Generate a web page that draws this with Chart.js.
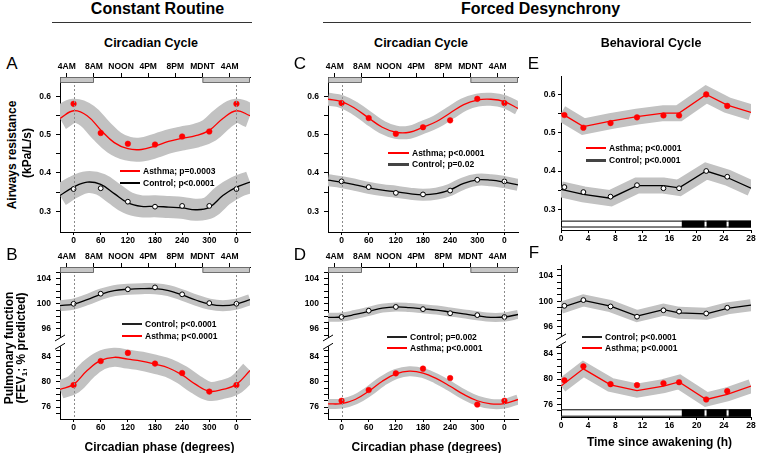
<!DOCTYPE html>
<html>
<head>
<meta charset="utf-8">
<script src="https://cdn.jsdelivr.net/npm/chart.js@4.4.1/dist/chart.umd.min.js"></script>
<style>
  body { margin: 0; background: #fff; }
  #fig { position: relative; width: 757px; height: 453px; overflow: hidden; background: #fff;
         font-family: "Liberation Sans", Arial, sans-serif; color: #000; }
  #fig canvas { position: absolute; }
  .t { position: absolute; white-space: nowrap; font-weight: bold; line-height: 1; }
  .rule { position: absolute; height: 1px; background: #333; }
  .leg { position: absolute; }
</style>
</head>
<body>
<div id="fig"></div>
<script>
// ---- axes / categories ----
const phaseFitX = [-30, 0, 30, 60, 90, 120, 150, 180, 210, 240, 270, 300, 330, 360, 390];
const phaseObsX = [0, 60, 120, 180, 240, 300, 360];
const phaseTicks = [0, 60, 120, 180, 240, 300, 360];
const phaseLabels = ['0', '60', '120', '180', '240', '300', '0'];
const clockTicks = [4, 8, 12, 16, 20, 24, 28];
const clockLabels = ['4AM', '8AM', 'NOON', '4PM', '8PM', 'MDNT', '4AM'];
const sleepBlocks = [[3, 8], [24, 31]];

const behavTicks = [0, 4, 8, 12, 16, 20, 24, 28];
const behavObsX = [0.5, 3.3, 7.3, 11.2, 15.1, 17.4, 21.4, 24.5];
const behavFitX = [0, 3.3, 7.3, 11.2, 15.1, 17.4, 21.4, 24.5, 28];
const darkBlocks = [[17.8, 21.15], [21.45, 24.4], [24.7, 28]];

const resTicks = [0.3, 0.35, 0.4, 0.45, 0.5, 0.55, 0.6];
const resLabels = ['0.3', '', '0.4', '', '0.5', '', '0.6'];
const fevTicks = [75, 76, 77, 78, 79, 80, 81, 82, 83, 84, 85, 95, 96, 97, 98, 99, 100, 101, 102, 103, 104, 105];
const fevLabels = ['', '76', '', '', '', '80', '', '', '', '84', '', '', '96', '', '', '', '100', '', '', '', '104', ''];

// ---- A: airways resistance, constant routine ----
const aAsthmaObs = [0.580, 0.504, 0.476, 0.474, 0.495, 0.508, 0.580];
const aAsthmaFit = [0.542, 0.562, 0.549, 0.512, 0.479, 0.463, 0.461, 0.470, 0.482, 0.490, 0.497, 0.511, 0.542, 0.562, 0.549];
const aControlObs = [0.358, 0.360, 0.325, 0.312, 0.314, 0.314, 0.358];
const aControlFit = [0.341, 0.363, 0.376, 0.370, 0.346, 0.322, 0.313, 0.313, 0.311, 0.309, 0.304, 0.310, 0.341, 0.363, 0.376];

// ---- B: FEV1, constant routine ----
const bControlObs = [100.0, 101.6, 102.3, 102.6, 101.5, 100.1, 100.0];
const bControlFit = [99.7, 99.95, 100.65, 101.5, 102.1, 102.3, 102.4, 102.4, 102.1, 101.4, 100.6, 99.95, 99.7, 99.95, 100.65];
const bAsthmaObs = [79.5, 83.3, 84.6, 82.9, 81.4, 78.45, 79.5];
const bAsthmaFit = [78.8, 79.6, 81.8, 83.4, 83.9, 83.6, 83.3, 82.8, 82.2, 81.1, 79.6, 78.5, 78.8, 79.6, 81.8];

// ---- C: airways resistance, forced desynchrony ----
const cAsthmaObs = [0.582, 0.543, 0.502, 0.519, 0.537, 0.593, 0.582];
const cAsthmaFit = [0.592, 0.586, 0.568, 0.543, 0.519, 0.506, 0.506, 0.519, 0.534, 0.556, 0.578, 0.590, 0.592, 0.586, 0.568];
const cControlObs = [0.378, 0.363, 0.348, 0.344, 0.354, 0.382, 0.378];
const cControlFit = [0.381, 0.376, 0.369, 0.361, 0.355, 0.351, 0.346, 0.343, 0.346, 0.356, 0.373, 0.382, 0.381, 0.376, 0.369];

// ---- D: FEV1, forced desynchrony ----
const dControlObs = [97.9, 98.9, 99.5, 99.15, 98.5, 98.2, 97.9];
const dControlFit = [97.85, 97.9, 98.3, 98.8, 99.3, 99.5, 99.4, 99.2, 99.0, 98.7, 98.4, 98.1, 97.85, 97.9, 98.3];
const dAsthmaObs = [77.0, 78.7, 81.35, 82.1, 80.6, 76.4, 77.0];
const dAsthmaFit = [76.5, 76.55, 77.2, 78.5, 80.1, 81.25, 81.7, 81.4, 80.5, 79.3, 78.0, 77.0, 76.5, 76.55, 77.2];

// ---- E: airways resistance, behavioral cycle ----
const eAsthmaObs = [0.546, 0.513, 0.525, 0.540, 0.545, 0.545, 0.600, 0.570];
const eAsthmaFit = [0.551, 0.516, 0.530, 0.542, 0.551, 0.551, 0.600, 0.572, 0.553];
const eControlObs = [0.358, 0.345, 0.333, 0.363, 0.355, 0.355, 0.400, 0.385];
const eControlFit = [0.352, 0.339, 0.329, 0.362, 0.362, 0.356, 0.400, 0.383, 0.355];

// ---- F: FEV1, behavioral cycle ----
const fControlObs = [99.3, 100.2, 99.2, 97.6, 98.6, 98.4, 98.1, 99.0];
const fControlFit = [99.0, 100.15, 99.25, 97.7, 98.7, 98.2, 98.05, 98.9, 99.4];
const fAsthmaObs = [79.8, 82.0, 79.2, 79.05, 79.35, 79.5, 76.8, 78.1];
const fAsthmaFit = [78.9, 81.6, 79.1, 78.2, 78.9, 79.55, 76.8, 77.6, 78.9];

const RED = '#ff0000';
const BAND = '#c2c2c2';
const FONT = '"Liberation Sans", Arial, sans-serif';
const tickFont = { family: FONT, size: 8.5, weight: 'bold' };

Chart.defaults.font.family = FONT;
Chart.defaults.animation = false;

const fig = document.getElementById('fig');

// dashed phase markers, sleep bars, axis break, light/dark bar
const deco = {
  id: 'deco',
  afterDatasetsDraw(chart, args, o) {
    const { ctx, chartArea: ca, scales } = chart;
    if (o.dashed) {
      ctx.save();
      ctx.strokeStyle = '#8a8a8a';
      ctx.lineWidth = 1;
      ctx.setLineDash([2, 2]);
      o.dashed.forEach(v => {
        const x = Math.round(scales.x.getPixelForValue(v)) + 0.5;
        ctx.beginPath(); ctx.moveTo(x, ca.top); ctx.lineTo(x, ca.bottom); ctx.stroke();
      });
      ctx.restore();
    }
  },
  afterDraw(chart, args, o) {
    const { ctx, chartArea: ca, scales } = chart;
    ctx.save();
    if (o.sleep) {
      o.sleep.forEach(([a, b]) => {
        const xa = scales.x2.getPixelForValue(a), xb = scales.x2.getPixelForValue(b);
        ctx.fillStyle = '#c6c6c6';
        ctx.fillRect(xa, ca.top, xb - xa, 5.5);
        ctx.strokeStyle = '#555'; ctx.lineWidth = 0.8;
        ctx.strokeRect(xa + 0.4, ca.top + 0.4, xb - xa - 0.8, 5.1);
      });
    }
    if (o.bar) {
      const yt = scales.y.getPixelForValue(o.bar.top), yb = scales.y.getPixelForValue(o.bar.bottom);
      const x0 = scales.x.getPixelForValue(0), x1 = scales.x.getPixelForValue(28);
      ctx.fillStyle = '#fff'; ctx.fillRect(x0, yt, x1 - x0, yb - yt);
      ctx.fillStyle = '#000';
      o.bar.dark.forEach(([a, b]) => {
        const xa = scales.x.getPixelForValue(a), xb = scales.x.getPixelForValue(b);
        ctx.fillRect(xa, yt, xb - xa, yb - yt);
      });
      ctx.strokeStyle = '#000'; ctx.lineWidth = 1;
      ctx.strokeRect(x0 + 0.5, yt + 0.5, x1 - x0 - 1, yb - yt - 1);
    }
    if (o.brk) {
      const x = ca.left;
      const yLo = scales.y.getPixelForValue(o.brk[0]);
      const yHi = scales.y.getPixelForValue(o.brk[1]);
      ctx.fillStyle = '#fff';
      ctx.fillRect(x - 2, yHi, 4, yLo - yHi);
      ctx.strokeStyle = '#000'; ctx.lineWidth = 1;
      [yHi, yLo].forEach(y => {
        ctx.beginPath(); ctx.moveTo(x - 5, y + 3); ctx.lineTo(x + 5, y - 3); ctx.stroke();
      });
    }
    ctx.restore();
  }
};

function panel(p) {
  const c = document.createElement('canvas');
  c.width = p.w; c.height = p.h;
  c.style.left = p.left + 'px'; c.style.top = p.top + 'px';
  c.style.width = p.w + 'px'; c.style.height = p.h + 'px';
  fig.appendChild(c);

  const phase = p.kind === 'phase';
  const fitX = phase ? phaseFitX : behavFitX;
  const obsX = phase ? phaseObsX : behavObsX;
  const toDisp = p.offset ? (v => (v > 90 ? v - p.offset : v)) : (v => v);
  const tension = phase ? 0.4 : 0;

  const datasets = [];
  p.series.forEach(s => {
    const fit = s.fit.map((v, i) => ({ x: fitX[i], y: toDisp(v) }));
    datasets.push({ data: fit, borderColor: BAND, borderWidth: s.band, pointRadius: 0, tension,
                    borderCapStyle: 'butt', borderJoinStyle: 'miter', order: 10 });
    datasets.push({ data: fit, borderColor: s.color, borderWidth: 1.3, pointRadius: 0, tension, order: 5 });
    datasets.push({ data: s.obs.map((v, i) => ({ x: obsX[i], y: toDisp(v) })), showLine: false,
                    pointRadius: s.filled ? 2.8 : 2.4, pointBorderWidth: s.filled ? 0.5 : 1,
                    pointBackgroundColor: s.filled ? s.color : '#fff', pointBorderColor: s.color, order: 1 });
  });

  const xTicks = phase ? phaseTicks : behavTicks;
  const xLabels = phase ? phaseLabels : behavTicks.map(String);
  const yVals = p.yTicks.map(toDisp);

  const scales = {
    x: {
      type: 'linear', position: 'bottom',
      min: phase ? -30 : 0, max: phase ? 390 : 28,
      afterBuildTicks: s => { s.ticks = xTicks.map(v => ({ value: v })); },
      afterFit: s => { s.height = 18; },
      ticks: { autoSkip: false, maxRotation: 0, padding: 1, color: '#000', font: tickFont,
               callback: (v, i) => xLabels[i] },
      grid: { drawOnChartArea: false, color: '#000', tickLength: 3 },
      border: { color: '#000', width: 1 }
    },
    y: {
      type: 'linear', position: 'left', min: p.yMin, max: p.yMax,
      afterBuildTicks: s => { s.ticks = yVals.map(v => ({ value: v })); },
      afterFit: s => { s.width = 40; },
      ticks: { autoSkip: false, padding: p.tickPad, color: '#000', font: tickFont,
               callback: (v, i) => p.yLabels[i] },
      grid: { drawOnChartArea: false, color: '#000', tickLength: p.tickLen },
      border: { color: '#000', width: 1 }
    }
  };
  if (phase) {
    scales.x2 = {
      type: 'linear', axis: 'x', position: 'top', display: true, min: 3, max: 31,
      afterBuildTicks: s => { s.ticks = clockTicks.map(v => ({ value: v })); },
      afterFit: s => { s.height = 22; },
      ticks: { autoSkip: false, maxRotation: 0, padding: 1, color: '#000', font: tickFont,
               callback: (v, i) => clockLabels[i] },
      grid: { drawOnChartArea: false, color: '#000', tickLength: 4 },
      border: { color: '#000', width: 1 }
    };
  }

  return new Chart(c, {
    type: 'line',
    data: { datasets },
    options: {
      responsive: false,
      devicePixelRatio: 1,
      clip: 0,
      layout: { padding: { top: p.padTop, right: p.padRight, left: 0, bottom: 0 } },
      scales,
      plugins: {
        legend: { display: false },
        tooltip: { enabled: false },
        deco: {
          dashed: phase ? [0, 360] : null,
          sleep: phase ? sleepBlocks : null,
          brk: p.brk || null,
          bar: p.bar || null
        }
      }
    },
    plugins: [deco]
  });
}

panel({ left: 20, top: 55, w: 240, h: 195, padTop: 0, padRight: 10, kind: 'phase',
  yMin: 0.246, yMax: 0.650, yTicks: resTicks, yLabels: resLabels, tickLen: 4, tickPad: 5,
  series: [
    { fit: aAsthmaFit, obs: aAsthmaObs, color: RED, filled: true, band: 24 },
    { fit: aControlFit, obs: aControlObs, color: '#000', filled: false, band: 22 }
  ] });

panel({ left: 20, top: 245, w: 240, h: 192, padTop: 0, padRight: 10, kind: 'phase',
  yMin: 74.1, yMax: 98.24, offset: 7.6, brk: [85.65, 86.97],
  yTicks: fevTicks, yLabels: fevLabels, tickLen: 4, tickPad: 5,
  series: [
    { fit: bAsthmaFit, obs: bAsthmaObs, color: RED, filled: true, band: 19 },
    { fit: bControlFit, obs: bControlObs, color: '#000', filled: false, band: 11 }
  ] });

panel({ left: 288, top: 55, w: 240, h: 195, padTop: 0, padRight: 10, kind: 'phase',
  yMin: 0.246, yMax: 0.650, yTicks: resTicks, yLabels: resLabels, tickLen: 4, tickPad: 5,
  series: [
    { fit: cAsthmaFit, obs: cAsthmaObs, color: RED, filled: true, band: 13 },
    { fit: cControlFit, obs: cControlObs, color: '#000', filled: false, band: 12 }
  ] });

panel({ left: 288, top: 245, w: 240, h: 192, padTop: 0, padRight: 10, kind: 'phase',
  yMin: 74.1, yMax: 98.24, offset: 7.6, brk: [85.65, 86.97],
  yTicks: fevTicks, yLabels: fevLabels, tickLen: 4, tickPad: 5,
  series: [
    { fit: dAsthmaFit, obs: dAsthmaObs, color: RED, filled: true, band: 10 },
    { fit: dControlFit, obs: dControlObs, color: '#000', filled: false, band: 9 }
  ] });

panel({ left: 521, top: 56, w: 236, h: 192, padTop: 20, padRight: 6, kind: 'behav',
  yMin: 0.246, yMax: 0.648, yTicks: resTicks, yLabels: resLabels, tickLen: 3, tickPad: 2.5,
  bar: { top: 0.2705, bottom: 0.2525, dark: darkBlocks },
  series: [
    { fit: eAsthmaFit, obs: eAsthmaObs, color: RED, filled: true, band: 16 },
    { fit: eControlFit, obs: eControlObs, color: '#000', filled: false, band: 16 }
  ] });

panel({ left: 521, top: 245, w: 236, h: 190, padTop: 20, padRight: 6, kind: 'behav',
  yMin: 74.05, yMax: 97.88, offset: 7.82, brk: [85.4, 86.6],
  yTicks: fevTicks, yLabels: fevLabels, tickLen: 4, tickPad: 4,
  bar: { top: 75.26, bottom: 74.1, dark: darkBlocks },
  series: [
    { fit: fAsthmaFit, obs: fAsthmaObs, color: RED, filled: true, band: 14 },
    { fit: fControlFit, obs: fControlObs, color: '#000', filled: false, band: 12 }
  ] });

// ---- text ----
function text(html, x, y, size, opts) {
  opts = opts || {};
  const d = document.createElement('div');
  d.className = 't';
  d.innerHTML = html;
  d.style.left = x + 'px';
  d.style.top = y + 'px';
  d.style.fontSize = size + 'px';
  if (opts.normal) d.style.fontWeight = 'normal';
  let tr = opts.left ? 'translate(0,-50%)' : 'translate(-50%,-50%)';
  if (opts.rot) tr += ' rotate(-90deg)';
  d.style.transform = tr;
  fig.appendChild(d);
}
function rule(x, y, w) {
  const d = document.createElement('div');
  d.className = 'rule';
  d.style.left = x + 'px'; d.style.top = y + 'px'; d.style.width = w + 'px';
  fig.appendChild(d);
}
function legend(x0, x1, y, label, color, lw) {
  const d = document.createElement('div');
  d.className = 'leg';
  d.style.left = Math.round(x0) + 'px'; d.style.top = Math.round(y - lw / 2) + 'px';
  d.style.width = Math.round(x1 - x0) + 'px'; d.style.height = Math.round(lw) + 'px';
  d.style.background = color;
  fig.appendChild(d);
  text(label, Math.round(x1) + 3, y, 8.5, { left: true });
}

text('Constant Routine', 157.5, 9, 16);
rule(52, 22, 200);
text('Forced Desynchrony', 540.5, 9, 16);
rule(323, 22, 428);
text('Circadian Cycle', 151, 42.5, 12.5);
text('Circadian Cycle', 421, 42.5, 12.5);
text('Behavioral Cycle', 651, 42.5, 12.5);

[['A', 12, 63], ['B', 12, 254], ['C', 300, 63], ['D', 300, 254], ['E', 533.5, 63], ['F', 534, 252]]
  .forEach(([l, x, y]) => text(l, x, y, 17, { normal: true }));

text('Airways resistance', 11.5, 154.5, 12, { rot: true });
text('(kPa/L/s)', 26.5, 153, 12, { rot: true });
text('Pulmonary function', 8.5, 347.5, 12, { rot: true });
text('(FEV<sub style="font-size:8px;vertical-align:-2px">1</sub>; % predicted)', 21.5, 348, 12, { rot: true });

text('Circadian phase (degrees)', 159.5, 446.5, 12);
text('Circadian phase (degrees)', 426.5, 446.5, 12);
text('Time since awakening (h)', 659.5, 441.5, 12);

legend(120, 140, 171, 'Asthma; p=0.0003', RED, 2);
legend(120, 140, 182.5, 'Control; p&lt;0.0001', '#000', 2);
legend(121.5, 141.5, 324, 'Control; p&lt;0.0001', '#222', 2);
legend(121.5, 141.5, 335.5, 'Asthma; p&lt;0.0001', RED, 2);
legend(388, 409, 153.3, 'Asthma; p&lt;0.0001', RED, 2);
legend(388, 409, 164, 'Control; p=0.02', '#444', 3);
legend(386.7, 406.7, 337.3, 'Control; p=0.002', '#222', 2);
legend(386.7, 406.7, 347.7, 'Asthma; p&lt;0.0001', RED, 2);
legend(586, 606, 148.3, 'Asthma; p&lt;0.0001', RED, 2);
legend(586, 606, 160, 'Control; p&lt;0.0001', '#444', 3);
legend(581.7, 601.7, 336.7, 'Control; p&lt;0.0001', '#222', 2);
legend(581.7, 601.7, 348.3, 'Asthma; p&lt;0.0001', RED, 2);
</script>
</body>
</html>
